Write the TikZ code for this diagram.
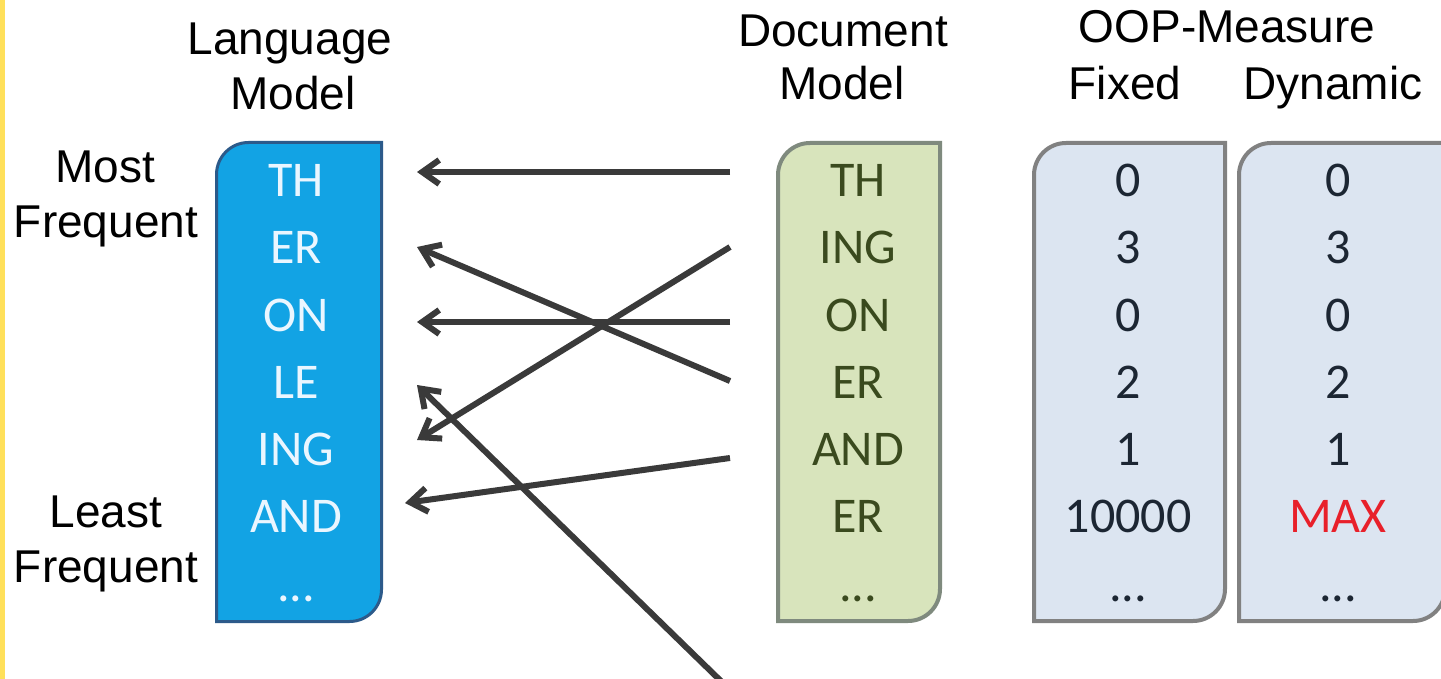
\documentclass[tikz,border=0pt]{standalone}
\usepackage{fontspec}
\setmainfont{Liberation Sans}
\newfontfamily\calib{Carlito}
\usetikzlibrary{arrows.meta}
\definecolor{lmfill}{HTML}{12A3E4}
\definecolor{lmdraw}{HTML}{2C5A8A}
\definecolor{lmtext}{HTML}{EAF6FF}
\definecolor{dmfill}{HTML}{D8E4BC}
\definecolor{dmdraw}{HTML}{7F8A7E}
\definecolor{dmtext}{HTML}{3A4A1E}
\definecolor{opfill}{HTML}{DCE5F1}
\definecolor{opdraw}{HTML}{818181}
\definecolor{optext}{HTML}{1C2633}
\definecolor{maxred}{HTML}{E8202A}
\definecolor{arrowc}{HTML}{3A3A3A}
\definecolor{yellowc}{HTML}{FFE05A}
\newcommand\cornerbox[6]{% style, x1, y1, x2, y2, r
  \path[#1] (#2,#5) -- (#2,{#3+#6}) arc[start angle=180,end angle=90,radius=#6pt]
    -- (#4,#3) -- (#4,{#5-#6}) arc[start angle=0,end angle=-90,radius=#6pt] -- cycle;}
\tikzset{
  hdr/.style={font=\fontsize{46}{55}\selectfont, anchor=base, inner sep=0pt, text=black},
  cell/.style={font=\calib\fontsize{50}{60}\selectfont, anchor=base, inner sep=0pt},
  lmcell/.style={cell, text=lmtext},
  dmcell/.style={cell, text=dmtext},
  opcell/.style={cell, text=optext},
  lmbox/.style={fill=lmfill, draw=lmdraw, line width=3pt},
  dmbox/.style={fill=dmfill, draw=dmdraw, line width=4pt},
  opbox/.style={fill=opfill, draw=opdraw, line width=4pt},
  link/.style={draw=arrowc, line width=6pt, -{Straight Barb[length=17pt,width=24pt]}}
}
\begin{document}
\begin{tikzpicture}[x=1pt,y=-1pt]
\useasboundingbox (0,0) rectangle (1441,679);
\fill[white] (0,0) rectangle (1441,679);
\fill[yellowc] (0,0) rectangle (5,679);

% headers
\node[hdr] (langA) at (290,55) {Language};
\node[hdr] (langB) at (293,110) {Model};
\node[hdr] (docA) at (843,47) {Document};
\node[hdr] (docB) at (842,100) {Model};
\node[hdr] (oop) at (1227,43) {OOP-Measure};
\node[hdr] (fixed) at (1125,100) {Fixed};
\node[hdr] (dyn) at (1333,100) {Dynamic};
\node[hdr] (most) at (105,183) {Most};
\node[hdr] (mostf) at (106,238) {Frequent};
\node[hdr] (least) at (106,527) {Least};
\node[hdr] (leastf) at (106,582) {Frequent};

% boxes
\cornerbox{lmbox}{216.5}{142.5}{381.5}{621.5}{32}
\cornerbox{dmbox}{778}{143}{940}{621}{32}
\cornerbox{opbox}{1034}{143}{1225}{621}{32}
\cornerbox{opbox}{1239}{143}{1445}{621}{32}

% language model
\node[lmcell] (lm1) at (296,197) {TH};
\node[lmcell] (lm2) at (296,264) {ER};
\node[lmcell] (lm3) at (296,331) {ON};
\node[lmcell] (lm4) at (296,398) {LE};
\node[lmcell] (lm5) at (296,465) {ING};
\node[lmcell] (lm6) at (296,532) {AND};
\node[lmcell] (lm7) at (296,601) {...};

% document model
\node[dmcell] (dm1) at (858,197) {TH};
\node[dmcell] (dm2) at (858,264) {ING};
\node[dmcell] (dm3) at (858,331) {ON};
\node[dmcell] (dm4) at (858,398) {ER};
\node[dmcell] (dm5) at (858,465) {AND};
\node[dmcell] (dm6) at (858,532) {ER};
\node[dmcell] (dm7) at (858,601) {...};

% fixed
\node[opcell] (fx1) at (1128,197) {0};
\node[opcell] (fx2) at (1128,264) {3};
\node[opcell] (fx3) at (1128,331) {0};
\node[opcell] (fx4) at (1128,398) {2};
\node[opcell] (fx5) at (1128,465) {1};
\node[opcell] (fx6) at (1128,532) {10000};
\node[opcell] (fx7) at (1128,601) {...};

% dynamic
\node[opcell] (dy1) at (1338,197) {0};
\node[opcell] (dy2) at (1338,264) {3};
\node[opcell] (dy3) at (1338,331) {0};
\node[opcell] (dy4) at (1338,398) {2};
\node[opcell] (dy5) at (1338,465) {1};
\node[opcell, text=maxred] (dy6) at (1338,532) {MAX};
\node[opcell] (dy7) at (1338,601) {...};

% connector end points
\coordinate (s1) at (730,172);
\coordinate (t1) at (417,172);
\coordinate (s2) at (730,247);
\coordinate (t2) at (417,440);
\coordinate (s3) at (730,322);
\coordinate (t3) at (417,322);
\coordinate (s4) at (730,381);
\coordinate (t4) at (417,247);
\coordinate (s5) at (730,458);
\coordinate (t5) at (405,503);
\coordinate (s6) at (726,686);
\coordinate (t6) at (417,385);

\draw[link] (s1) -- (t1);
\draw[link] (s2) -- (t2);
\draw[link] (s3) -- (t3);
\draw[link] (s4) -- (t4);
\draw[link] (s5) -- (t5);
\draw[link] (s6) -- (t6);
\end{tikzpicture}
\end{document}
